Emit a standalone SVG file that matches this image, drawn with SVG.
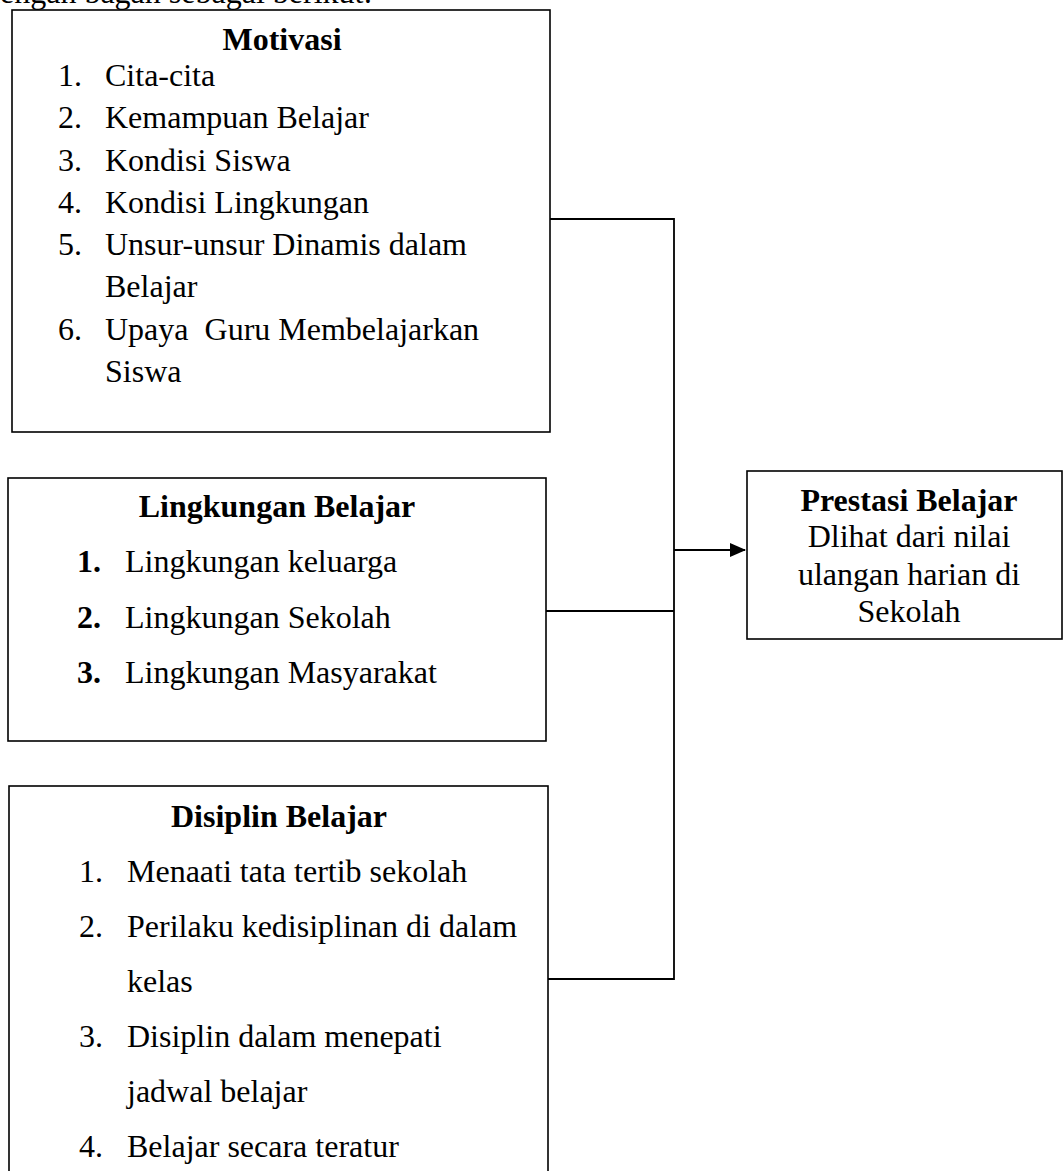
<svg xmlns="http://www.w3.org/2000/svg" width="1063" height="1171" viewBox="0 0 1063 1171">
<style>
text{font-family:"Liberation Serif","Times New Roman",serif;font-size:32px;fill:#000}
.b{font-weight:bold}
.c{text-anchor:middle}
.box{fill:#fff;stroke:#000;stroke-width:1.6}
.ln{fill:none;stroke:#000;stroke-width:1.8}
</style>
<defs>
<marker id="ah" markerWidth="16" markerHeight="14" refX="15" refY="7" orient="auto" markerUnits="userSpaceOnUse">
<path d="M0,0 L16,7 L0,14 Z" fill="#000"/>
</marker>
</defs>
<rect width="1063" height="1171" fill="#fff"/>
<text x="-16" y="3">dengan bagan sebagai berikut:</text>
<g id="connectors">
<polyline class="ln" points="546,219 674,219 674,979 548,979"/>
<line class="ln" x1="546" y1="611" x2="674" y2="611"/>
<line class="ln" x1="674" y1="550" x2="745" y2="550" marker-end="url(#ah)"/>
</g>
<g id="motivasi">
<rect class="box" x="12" y="10" width="538" height="422"/>
<text class="b c" x="282" y="50">Motivasi</text>
<text x="58" y="86">1.</text><text x="105" y="86">Cita-cita</text>
<text x="58" y="128">2.</text><text x="105" y="128">Kemampuan Belajar</text>
<text x="58" y="171">3.</text><text x="105" y="171">Kondisi Siswa</text>
<text x="58" y="213">4.</text><text x="105" y="213">Kondisi Lingkungan</text>
<text x="58" y="255">5.</text><text x="105" y="255">Unsur-unsur Dinamis dalam</text>
<text x="105" y="297">Belajar</text>
<text x="58" y="340">6.</text><text x="105" y="340" xml:space="preserve">Upaya  Guru Membelajarkan</text>
<text x="105" y="382">Siswa</text>
</g>
<g id="lingkungan">
<rect class="box" x="8" y="478" width="538" height="263"/>
<text class="b c" x="277" y="517">Lingkungan Belajar</text>
<text class="b" x="77" y="572">1.</text><text x="125" y="572">Lingkungan keluarga</text>
<text class="b" x="77" y="628">2.</text><text x="125" y="628">Lingkungan Sekolah</text>
<text class="b" x="77" y="683">3.</text><text x="125" y="683">Lingkungan Masyarakat</text>
</g>
<g id="disiplin">
<rect class="box" x="9" y="786" width="539" height="420"/>
<text class="b c" x="279" y="827">Disiplin Belajar</text>
<text x="79" y="882">1.</text><text x="127" y="882">Menaati tata tertib sekolah</text>
<text x="79" y="937">2.</text><text x="127" y="937">Perilaku kedisiplinan di dalam</text>
<text x="127" y="992">kelas</text>
<text x="79" y="1047">3.</text><text x="127" y="1047">Disiplin dalam menepati</text>
<text x="127" y="1102">jadwal belajar</text>
<text x="79" y="1157">4.</text><text x="127" y="1157">Belajar secara teratur</text>
</g>
<g id="prestasi">
<rect class="box" x="747" y="471" width="315" height="168"/>
<text class="b c" x="909" y="511">Prestasi Belajar</text>
<text class="c" x="909" y="547">Dlihat dari nilai</text>
<text class="c" x="909" y="585">ulangan harian di</text>
<text class="c" x="909" y="622">Sekolah</text>
</g>
</svg>
